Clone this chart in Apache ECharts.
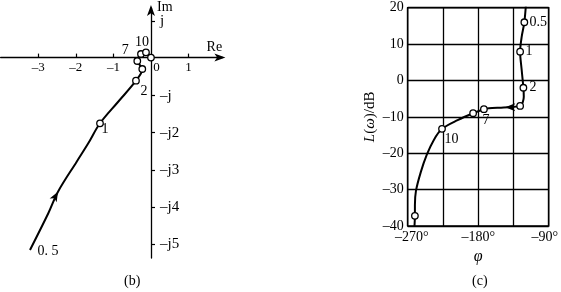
<!DOCTYPE html>
<html><head><meta charset="utf-8">
<script src="https://cdn.jsdelivr.net/npm/echarts@6/dist/echarts.min.js"></script>
<style>html,body{margin:0;padding:0;background:#fff}#c{width:561px;height:292px}</style>
</head><body><div id="c"></div>
<script>
// ---- Nyquist plot (b) ----
const nyqRe = [-3.218, -2.731, -2.473, -1.976, -1.668, -1.356, -0.878, -0.399, -0.231, -0.364, -0.266, -0.133, 0];
const nyqIm = [-5.158, -4.174, -3.595, -2.791, -2.298, -1.761, -1.190, -0.619, -0.306, -0.091, 0.097, 0.142, 0];
const nyqMarkRe = [-1.356, -0.399, -0.231, -0.364, -0.266, -0.133, 0];
const nyqMarkIm = [-1.761, -0.619, -0.306, -0.091, 0.097, 0.142, 0];
const nyqMarkText = ['1', '2', '', '7', '', '10', ''];
const nyqStartText = '0. 5';
const nyqArrowAt = [-2.473, -3.595];
const nyqReTicks = [-3, -2, -1, 0, 1];
const nyqImTicks = [-5, -4, -3, -2, -1, 1];

// ---- Nichols chart (c) ----
const nicPhase = [-118.6, -121.1, -124.5, -126.5, -124.5, -122.3, -121.8, -126.5, -147.5, -166.4, -172.7, -186.5, -206.3, -226.2, -236.8, -245.6, -253.3, -259.5, -260.8, -260.8, -261.4];
const nicGain  = [22.1, 16.0, 12.0, 7.9, 2.9, -2.0, -4.5, -7.0, -7.4, -7.65, -7.9, -9.0, -10.9, -13.3, -16.4, -20.4, -25.2, -30.4, -34.2, -37.2, -40.3];
const nicMarkPhase = [-121.1, -126.5, -122.3, -126.5, -172.7, -186.5, -226.2, -260.8];
const nicMarkGain  = [16.0, 7.9, -2.0, -7.0, -7.9, -9.0, -13.3, -37.2];
const nicMarkText  = ['0.5', '1', '2', '', '7', '', '10', ''];
const nicArrowAt = [-145.5, -7.35];
const nicPhaseLabels = [-270, -180, -90];

// label offsets (style only)
const nyqLabelOffset = [[5, 6], [8, 11], null, [-12, -11], null, [-4, -10], null];
const nicLabelOffset = [[14, 0], [9, 0], [9.5, 0], null, [2, 11], null, [9.5, 10], null];

const FONT = '"Liberation Serif","Times New Roman",serif';
const BLACK = '#000';
const DASH = '\u2013';

// Nyquist scale (shared by data grid and decorative axis grids)
const RE_MIN = -4, RE_MAX = 1.9, IM_MIN = -5.373, IM_MAX = 1.357;
const NQ_LEFT = 0.6, NQ_W = 221.8, NQ_TOP = 7, NQ_H = 251;
const pxPerRe = NQ_W / (RE_MAX - RE_MIN);
const pxPerIm = NQ_H / (IM_MAX - IM_MIN);
const zeroX = NQ_LEFT + (0 - RE_MIN) * pxPerRe;
const zeroY = NQ_TOP + (IM_MAX - 0) * pxPerIm;

const LABEL_STYLE = { fontSize: 14, fontFamily: FONT, color: BLACK, opacity: 1, textBorderWidth: 0, textBorderColor: 'transparent', textShadowBlur: 0 };
const MARK_ITEM = { color: '#fff', borderColor: BLACK, borderWidth: 1.3, opacity: 1 };

function markData(xs, ys, texts, offs) {
  return xs.map((x, i) => {
    const d = { value: [x, ys[i]] };
    if (texts[i]) {
      d.label = Object.assign({ show: true, formatter: texts[i], position: 'inside', offset: offs[i] }, LABEL_STYLE);
    }
    return d;
  });
}
const minus = v => String(v).replace('-', DASH);
const hiddenAxis = (gi, min, max) => ({ gridIndex: gi, type: 'value', min, max, show: false, splitLine: { show: false } });

const chart = echarts.init(document.getElementById('c'), null, { renderer: 'canvas' });
chart.setOption({
  animation: false,
  backgroundColor: '#fff',
  textStyle: { fontFamily: FONT, color: BLACK },
  grid: [
    { left: NQ_LEFT, width: NQ_W, top: NQ_TOP, height: NQ_H },                       // 0: Nyquist data
    { left: 407.7, width: 143, top: 7.7, height: 218.3, show: true, borderColor: BLACK, borderWidth: 1.5 }, // 1: Nichols
    { left: NQ_LEFT, width: NQ_W, top: NQ_TOP, height: zeroY - NQ_TOP },             // 2: Re axis holder
    { left: zeroX, width: NQ_LEFT + NQ_W - zeroX, top: NQ_TOP, height: NQ_H }        // 3: Im axis holder
  ],
  xAxis: [
    hiddenAxis(0, RE_MIN, RE_MAX),
    {
      gridIndex: 1, type: 'value', min: -270, max: -90, interval: 45,
      axisLine: { show: false },
      axisTick: { show: false },
      axisLabel: {
        margin: 4, fontSize: 14, fontFamily: FONT, color: BLACK,
        formatter: v => {
          if (nicPhaseLabels.indexOf(v) < 0) return '';
          const t = minus(v) + '°';
          if (v === nicPhaseLabels[0]) return '{l|' + t + '}';
          if (v === nicPhaseLabels[nicPhaseLabels.length - 1]) return '{r|' + t + '}';
          return t;
        },
        rich: {
          l: { padding: [0, 0, 0, 8], fontSize: 14, fontFamily: FONT, color: BLACK },
          r: { padding: [0, 8, 0, 0], fontSize: 14, fontFamily: FONT, color: BLACK }
        }
      },
      splitLine: { show: true, lineStyle: { color: BLACK, width: 1.3 } },
      name: 'φ', nameLocation: 'middle', nameGap: 19,
      nameTextStyle: { fontSize: 16, fontStyle: 'italic', fontFamily: FONT, color: BLACK }
    },
    {
      gridIndex: 2, type: 'value', min: RE_MIN, max: RE_MAX, position: 'bottom',
      axisLine: { onZero: false, lineStyle: { color: BLACK, width: 1.3 }, symbol: ['none', 'arrow'], symbolSize: [6, 11], symbolOffset: [0, 3] },
      axisTick: { show: true, inside: true, length: 4, customValues: nyqReTicks, lineStyle: { color: BLACK, width: 1.2 } },
      axisLabel: {
        customValues: nyqReTicks, margin: 3, fontSize: 13, fontFamily: FONT, color: BLACK,
        formatter: v => v === 0 ? '{z|0}' : minus(v),
        rich: { z: { padding: [0, 0, 0, 11], fontSize: 13, fontFamily: FONT, color: BLACK } }
      },
      splitLine: { show: false },
      name: 'Re', nameLocation: 'end', nameGap: -8,
      nameTextStyle: { fontSize: 14, fontFamily: FONT, color: BLACK, align: 'center', verticalAlign: 'bottom', padding: [0, 0, 3, 0] }
    },
    hiddenAxis(3, 0, RE_MAX)
  ],
  yAxis: [
    hiddenAxis(0, IM_MIN, IM_MAX),
    {
      gridIndex: 1, type: 'value', min: -40, max: 20, interval: 10,
      axisLine: { show: false },
      axisTick: { show: false },
      axisLabel: { margin: 4, fontSize: 14, fontFamily: FONT, color: BLACK, formatter: v => minus(v) },
      splitLine: { show: true, lineStyle: { color: BLACK, width: 1.3 } },
      name: '{i|L}({i|ω})/dB', nameLocation: 'middle', nameGap: 30, nameRotate: 90,
      nameTextStyle: {
        fontSize: 15, fontFamily: FONT, color: BLACK,
        rich: { i: { fontStyle: 'italic', fontSize: 15, fontFamily: FONT, color: BLACK } }
      }
    },
    hiddenAxis(2, 0, IM_MAX),
    {
      gridIndex: 3, type: 'value', min: IM_MIN, max: IM_MAX, position: 'left',
      axisLine: { onZero: false, lineStyle: { color: BLACK, width: 1.3 }, symbol: ['none', 'arrow'], symbolSize: [6, 11], symbolOffset: [0, 3] },
      axisTick: { show: true, inside: true, length: 4, customValues: nyqImTicks, lineStyle: { color: BLACK, width: 1.2 } },
      axisLabel: {
        inside: true, customValues: nyqImTicks, margin: 9, fontSize: 15, fontFamily: FONT, color: BLACK,
        formatter: v => v === 1 ? 'j' : (v === -1 ? DASH + 'j' : DASH + 'j' + (-v))
      },
      splitLine: { show: false },
      name: 'Im', nameLocation: 'end', nameGap: -13,
      nameTextStyle: { fontSize: 14, fontFamily: FONT, color: BLACK, align: 'left', verticalAlign: 'middle', padding: [0, 0, 0, 6] }
    }
  ],
  series: [
    {
      type: 'line', xAxisIndex: 0, yAxisIndex: 0, smooth: 0.35, showSymbol: false, silent: true,
      lineStyle: { color: BLACK, width: 2 },
      data: nyqRe.map((x, i) => [x, nyqIm[i]])
    },
    {
      type: 'scatter', xAxisIndex: 0, yAxisIndex: 0, symbol: 'circle', symbolSize: 6.5, z: 3,
      itemStyle: MARK_ITEM,
      label: Object.assign({ show: false }, LABEL_STYLE),
      data: markData(nyqMarkRe, nyqMarkIm, nyqMarkText, nyqLabelOffset)
    },
    {
      type: 'scatter', xAxisIndex: 0, yAxisIndex: 0, symbol: 'circle', symbolSize: 1,
      itemStyle: { color: 'rgba(0,0,0,0)', opacity: 1 },
      label: Object.assign({ show: true, formatter: nyqStartText, position: 'inside', offset: [18, 1] }, LABEL_STYLE),
      data: [[nyqRe[0], nyqIm[0]]]
    },
    {
      type: 'scatter', xAxisIndex: 0, yAxisIndex: 0, symbol: 'arrow', symbolSize: [6, 10], symbolRotate: -29,
      itemStyle: { color: BLACK, opacity: 1 },
      data: [nyqArrowAt]
    },
    {
      type: 'line', xAxisIndex: 1, yAxisIndex: 1, smooth: 0.3, showSymbol: false, silent: true, clip: true,
      lineStyle: { color: BLACK, width: 2 },
      data: nicPhase.map((x, i) => [x, nicGain[i]])
    },
    {
      type: 'scatter', xAxisIndex: 1, yAxisIndex: 1, symbol: 'circle', symbolSize: 6.5, z: 3,
      itemStyle: MARK_ITEM,
      label: Object.assign({ show: false }, LABEL_STYLE),
      data: markData(nicMarkPhase, nicMarkGain, nicMarkText, nicLabelOffset)
    },
    {
      type: 'scatter', xAxisIndex: 1, yAxisIndex: 1, symbol: 'arrow', symbolSize: [6, 10], symbolRotate: 90,
      itemStyle: { color: BLACK, opacity: 1 },
      data: [nicArrowAt]
    }
  ],
  graphic: [
    { type: 'text', left: 124, top: 274, style: { text: '(b)', font: '14px ' + FONT, fill: BLACK } },
    { type: 'text', left: 472, top: 274, style: { text: '(c)', font: '14px ' + FONT, fill: BLACK } }
  ]
});
</script></body></html>
